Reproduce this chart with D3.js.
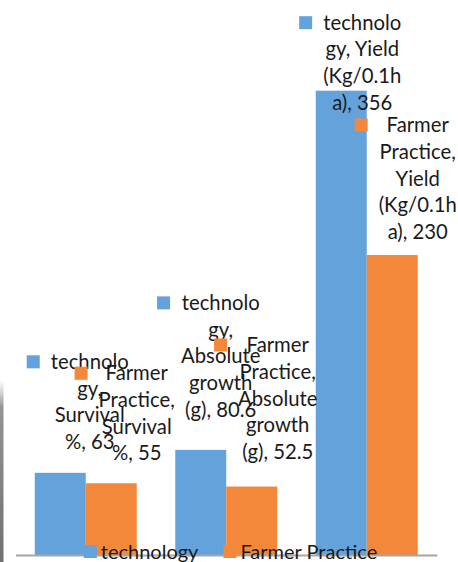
<!DOCTYPE html>
<html>
<head>
<meta charset="utf-8">
<script src="https://cdn.jsdelivr.net/npm/d3@7"></script>
<style>
  html, body { margin: 0; padding: 0; background: #fff; }
  svg { display: block; }
  text { font-family: Lato, "Open Sans", sans-serif; fill: #1a1a1a; }
</style>
</head>
<body>
<svg id="chart" width="458" height="562"></svg>
<script>
// ---- data ----
const categories = ["Survival %", "Absolute growth (g)", "Yield (Kg/0.1ha)"];
const seriesNames = ["technology", "Farmer Practice"];
const technology = [63, 80.6, 356];
const farmerPractice = [55, 52.5, 230];
const yDomainMax = 400;
// data-label text as wrapped in the original (value is appended to the last line)
const technologyLabelWrap = [
  ["technolo", "gy,", "Survival", "%, "],
  ["technolo", "gy,", "Absolute", "growth", "(g), "],
  ["technolo", "gy, Yield", "(Kg/0.1h", "a), "]
];
const farmerLabelWrap = [
  ["Farmer", "Practice,", "Survival", "%, "],
  ["Farmer", "Practice,", "Absolute", "growth", "(g), "],
  ["Farmer", "Practice,", "Yield", "(Kg/0.1h", "a), "]
];

// ---- layout ----
const colors = ["#64a2dc", "#f4883a"];
const plot = { left: 15.5, right: 437, top: 33.3, bottom: 555 };
const labelFontSize = 20.3;
const legendFontSize = 20;
const lineH = 26.7;
// label anchor offsets (from bar centre x / bar top y) to first-line centre
const techLabelOffset = [{dx: 29.5, dy: -111}, {dx: 20, dy: -147}, {dx: 21, dy: -68}];
const farmerLabelOffset = [{dx: 25.5, dy: -110}, {dx: 26, dy: -141.5}, {dx: 25.5, dy: -130}];

const svg = d3.select("#chart");

// left-edge scan artefact
const defs = svg.append("defs");
const g1 = defs.append("linearGradient").attr("id", "edge").attr("x1", 0).attr("y1", 0).attr("x2", 0).attr("y2", 1);
g1.append("stop").attr("offset", "0%").attr("stop-color", "#999").attr("stop-opacity", 0);
g1.append("stop").attr("offset", "15%").attr("stop-color", "#888").attr("stop-opacity", 0.9);
g1.append("stop").attr("offset", "100%").attr("stop-color", "#707070").attr("stop-opacity", 1);
svg.append("rect").attr("x", 0).attr("y", 380).attr("width", 3.5).attr("height", 182).attr("fill", "url(#edge)");

const x0 = d3.scaleBand().domain(categories).range([plot.left, plot.right]).paddingInner(0.274).paddingOuter(0.137);
const x1 = d3.scaleBand().domain(seriesNames).range([0, x0.bandwidth()]);
const y = d3.scaleLinear().domain([0, yDomainMax]).range([plot.bottom, plot.top]);

const seriesData = [technology, farmerPractice];
const wraps = [technologyLabelWrap, farmerLabelWrap];
const offsets = [techLabelOffset, farmerLabelOffset];

// bars
seriesData.forEach((vals, si) => {
  svg.append("g").selectAll("rect").data(vals).join("rect")
    .attr("x", (d, i) => x0(categories[i]) + x1(seriesNames[si]))
    .attr("y", d => y(d))
    .attr("width", x1.bandwidth())
    .attr("height", d => y(0) - y(d))
    .attr("fill", colors[si]);
});

// baseline axis
const axis = svg.append("g").attr("transform", `translate(0,${plot.bottom})`)
  .call(d3.axisBottom(x0).tickSize(0).tickFormat(""));
axis.select(".domain").attr("stroke", "#a6a6a6").attr("stroke-width", 2);

// data labels
seriesData.forEach((vals, si) => {
  vals.forEach((v, i) => {
    const cx = x0(categories[i]) + x1(seriesNames[si]) + x1.bandwidth() / 2 + offsets[si][i].dx;
    const cy = y(v) + offsets[si][i].dy;
    const lines = wraps[si][i].slice();
    lines[lines.length - 1] = lines[lines.length - 1] + v;
    const g = svg.append("g");
    const t = g.append("text").attr("text-anchor", "middle").style("font-size", labelFontSize + "px");
    lines.forEach((ln, k) => {
      t.append("tspan").attr("x", cx).attr("y", cy + k * lineH).attr("dy", "0.35em").text(ln);
    });
    let maxW = 0;
    t.selectAll("tspan").each(function() { maxW = Math.max(maxW, this.getComputedTextLength()); });
    g.append("rect")
      .attr("x", cx - maxW / 2 - 11 - 13).attr("y", cy - 6.5)
      .attr("width", 13).attr("height", 13).attr("fill", colors[si]);
  });
});

// legend
const legend = svg.append("g");
const legendY = 551.5;
const items = seriesNames.map((name, si) => {
  const g = legend.append("g");
  g.append("rect").attr("width", 13).attr("height", 13).attr("y", legendY - 6.5).attr("fill", colors[si]);
  const t = g.append("text").attr("x", 17).attr("y", legendY).attr("dy", "0.35em")
    .style("font-size", legendFontSize + "px").text(name);
  return { g, w: 17 + t.node().getComputedTextLength() };
});
const gap = 25;
const totalW = d3.sum(items, d => d.w) + gap * (items.length - 1);
let lx = 230.5 - totalW / 2;
items.forEach(it => { it.g.attr("transform", `translate(${lx},0)`); lx += it.w + gap; });
</script>
</body>
</html>
